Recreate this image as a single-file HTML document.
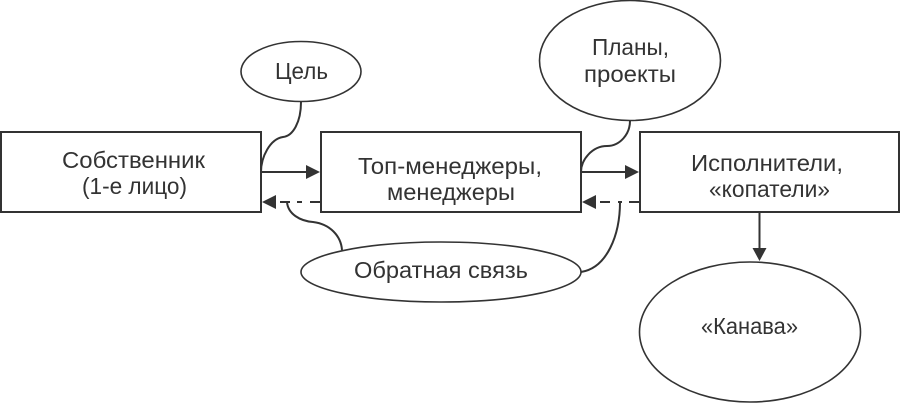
<!DOCTYPE html>
<html>
<head>
<meta charset="utf-8">
<style>
html,body{margin:0;padding:0;background:#fff;width:900px;height:403px;overflow:hidden}
svg{display:block}
text{font-family:"Liberation Sans",sans-serif;font-size:23px;fill:#333;text-anchor:middle}
.s{fill:none;stroke:#333;stroke-width:2}
.b{fill:#fff;stroke:#333;stroke-width:2}
.e{fill:#fff;stroke:#333;stroke-width:1.6}
</style>
</head>
<body>
<svg width="900" height="403" viewBox="0 0 900 403" xmlns="http://www.w3.org/2000/svg">
<rect class="b" x="1" y="132" width="260" height="80"/>
<rect class="b" x="321" y="132" width="260" height="80"/>
<rect class="b" x="640" y="132" width="259" height="80"/>
<ellipse class="e" cx="301" cy="71.5" rx="60" ry="30"/>
<ellipse class="e" cx="630" cy="60.5" rx="90.5" ry="60"/>
<ellipse class="e" cx="441" cy="272" rx="140" ry="30"/>
<ellipse class="e" cx="750" cy="332" rx="110.5" ry="70"/>

<path class="s" d="M301 102C301 122 293 136 283 137C270 139 261 157 261 172"/>
<path class="s" d="M630 121C630 134 620 146 607 146C592 146 581 160 581 172"/>
<path class="s" d="M287 202C288 214 300 221 313 222C330 224 341 236 342 250"/>
<path class="s" d="M620 202C620 235 607 268 581 272"/>

<path class="s" d="M261 172H308"/>
<path d="M320 172L306 165V179Z" fill="#333"/>
<path class="s" d="M581 172H626"/>
<path d="M639 172L625 165V179Z" fill="#333"/>

<path d="M262 202L276 195V209Z" fill="#333"/>
<path class="s" d="M280 202H290M297 202H302M310 202H321"/>
<path d="M582 202L596 195V209Z" fill="#333"/>
<path class="s" d="M600 202H610M618 202H622M629 202H640"/>

<path class="s" d="M759.5 212V249"/>
<path d="M759.5 261L752.5 248H766.5Z" fill="#333"/>

<text x="133.5" y="168" textLength="143" lengthAdjust="spacingAndGlyphs">Собственник</text>
<text x="134.5" y="194" textLength="105" lengthAdjust="spacingAndGlyphs">(1-е лицо)</text>
<text x="450" y="174" textLength="184" lengthAdjust="spacingAndGlyphs">Топ-менеджеры,</text>
<text x="451" y="200" textLength="128" lengthAdjust="spacingAndGlyphs">менеджеры</text>
<text x="767" y="171" textLength="152" lengthAdjust="spacingAndGlyphs">Исполнители,</text>
<text x="769.5" y="197" textLength="121" lengthAdjust="spacingAndGlyphs">«копатели»</text>
<text x="301.5" y="79" textLength="53" lengthAdjust="spacingAndGlyphs">Цель</text>
<text x="630.5" y="55" textLength="77" lengthAdjust="spacingAndGlyphs">Планы,</text>
<text x="630" y="82" textLength="92" lengthAdjust="spacingAndGlyphs">проекты</text>
<text x="441" y="278" textLength="174" lengthAdjust="spacingAndGlyphs">Обратная связь</text>
<text x="749.5" y="334" textLength="97" lengthAdjust="spacingAndGlyphs">«Канава»</text>
</svg>
</body>
</html>
